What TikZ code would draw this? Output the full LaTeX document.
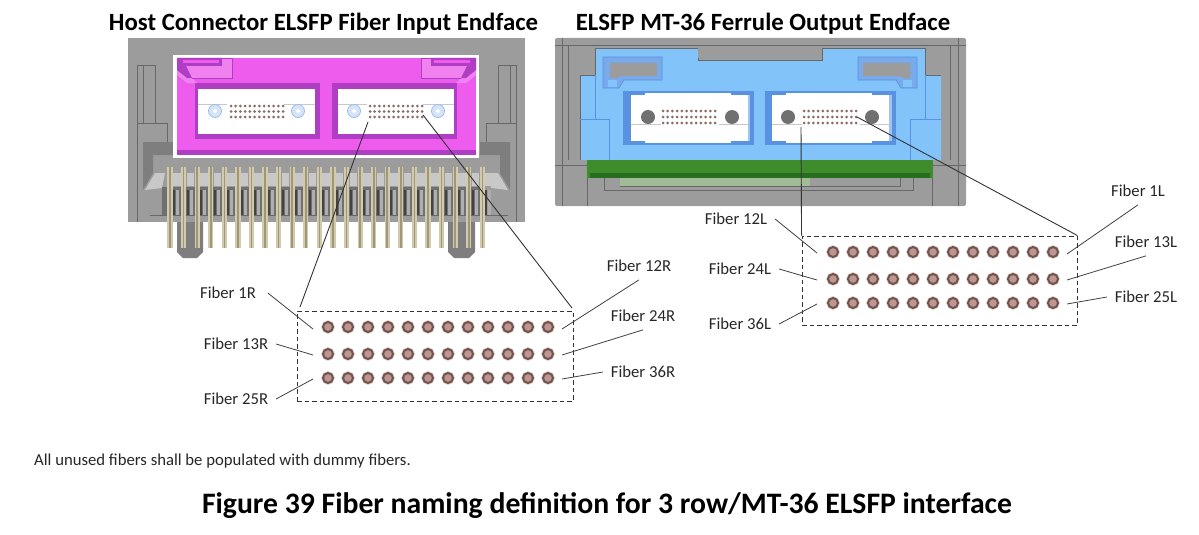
\documentclass[tikz,border=0pt]{standalone}
\usepackage{fontspec}
\setmainfont{Carlito}
\definecolor{BodyClr}{RGB}{156,156,156}
\definecolor{BodyLine}{RGB}{104,104,104}
\definecolor{BodyDark}{RGB}{112,112,112}
\definecolor{BodyPale}{RGB}{200,200,200}
\definecolor{MagClr}{RGB}{238,92,238}
\definecolor{MagDark}{RGB}{176,62,196}
\definecolor{MagPale}{RGB}{240,130,240}
\definecolor{BlueClr}{RGB}{130,196,250}
\definecolor{BlueDark}{RGB}{88,146,224}
\definecolor{BlueMid}{RGB}{120,170,236}
\definecolor{GreenClr}{RGB}{62,140,44}
\definecolor{GreenDark}{RGB}{40,110,30}
\definecolor{GreenPale}{RGB}{160,188,150}
\definecolor{PinClr}{RGB}{210,202,172}
\definecolor{PinDark}{RGB}{160,150,120}
\definecolor{FiberClr}{RGB}{112,84,80}
\definecolor{FiberFill}{RGB}{190,150,144}
\definecolor{TinyClr}{RGB}{140,108,102}
\tikzset{
  lbl/.style={font=\fontsize{16.7}{18}\selectfont,inner sep=2pt,outer sep=6pt,text=black!85},
  lead/.style={line width=.8pt,black!75},
  zoomline/.style={line width=.9pt,black!80},
  zoombox/.style={draw,dashed,line width=.9pt,black!80,dash pattern=on 4.5pt off 3pt},
  fiberdot/.style={circle,draw=FiberClr,fill=FiberFill,line width=2pt,minimum size=10pt,inner sep=0pt,
    preaction={draw=FiberFill!45,line width=3.6pt}},
  tinydot/.style={circle,fill=TinyClr,minimum size=3pt,inner sep=0pt},
  outline/.style={BodyLine,line width=.6pt},
}
\newcommand{\MagCorner}{%
  \fill[MagPale] (177,58)--(232,58)--(232,78)--(192,78)--(197,83)--(187,83)--(177,75)--cycle;
  \fill[MagDark] (177,58)--(222,58)--(222,66)--(186,66)--(192,78)--(187,78)--(177,70)--cycle;
  \fill[MagClr] (183,60)--(219,60)--(219,63)--(183,63)--cycle;
  \draw[MagDark,line width=.5pt] (222,58)--(232,58)--(232,78)--(192,78);
}
\newcommand{\BodyBevel}{%
  \draw[outline] (137,65)--(155,65)--(155,123)--(137,123)--cycle;
  \draw[outline] (143,65)--(143,123);
  \draw[outline] (137,123)--(167,123)--(167,142);
  \fill[BodyDark!90] (143,142)--(173,142)--(173,155)--(153,155)--(153,173)--(143,190)--cycle;
  \fill[BodyPale] (145,190)--(155,173)--(165,173)--(162,188)--cycle;
  \draw[outline] (137,123)--(137,222);
}
\newcommand{\SlitBlue}[1]{%
  \begin{scope}[shift={(#1,0)}]
  \fill[BlueMid] (0,57)--(59,57)--(59,80)--(21,80)--(16,88)--(0,88)--cycle;
  \draw[BlueDark,line width=.7pt] (0,57)--(59,57)--(59,80)--(21,80)--(16,88)--(0,88)--cycle;
  \fill[BodyClr] (7,63)--(54,63)--(54,76)--(18,76)--(14,78)--(7,78)--cycle;
  \fill[BlueClr] (5,80)--(14,80)--(14,87)--(5,87)--cycle;
  \end{scope}
}
\begin{document}
\begin{tikzpicture}[x=1pt,y=-1pt]
\useasboundingbox (0,0) rectangle (1199,535);

\node[font=\fontsize{24.8}{26}\selectfont\bfseries,inner sep=0pt] (titleR) at (323.5,24) {Host Connector ELSFP Fiber Input Endface};
\node[font=\fontsize{24.8}{26}\selectfont\bfseries,inner sep=0pt] (titleL) at (763,24) {ELSFP MT-36 Ferrule Output Endface};

\fill[BodyClr] (128,38) rectangle (525,222);
\BodyBevel
\begin{scope}[shift={(653,0)},xscale=-1]
\BodyBevel
\end{scope}
\fill[BodyDark] (162,187) rectangle (483,215);
\draw[outline] (150,215)--(508,215);
\fill[BodyDark!90] (177,222) -- (203,222) -- (203,252) -- (197,258) -- (183,258) -- (177,252) -- cycle;
\fill[BodyDark!90] (448,222) -- (475,222) -- (475,252) -- (469,258) -- (454,258) -- (448,252) -- cycle;
\foreach \i in {0,...,23}{
  \pgfmathsetmacro{\px}{170+13.58*\i}
  \fill[BodyPale] (\px+3,173) rectangle (\px+10.5,186);
  \fill[BodyDark!60!black] (\px+3,190) rectangle (\px+5,215);
  \fill[BodyPale!70!BodyDark] (\px+6,190) rectangle (\px+9,215);
  \fill[PinClr] (\px-2.6,167) rectangle (\px+2.6,248);
  \fill[PinDark] (\px-.8,167) rectangle (\px+.8,248);
}
\fill[white] (173,55) rectangle (479,158);
\fill[MagClr] (177,58) rectangle (476,155);
\fill[MagDark] (177,150) rectangle (476,155);
\MagCorner
\begin{scope}[shift={(653,0)},xscale=-1]
\MagCorner
\end{scope}
\foreach \wx/\wa/\wb in {195/198/315,332/338/454}{
  \fill[MagDark] (\wx,83) rectangle (\wx+125,139);
  \fill[white] (\wa,89) rectangle (\wb,134);
  \draw[BodyPale,line width=.5pt] (\wa,104) -- (\wa+29,104) (\wb-31,104) -- (\wb,104);
}
\foreach \cx in {215,298,354,438}{
  \node[circle,draw=BlueDark!60,fill=BlueDark!25,line width=.8pt,minimum size=13pt,inner sep=0pt] (pinR\cx) at (\cx,111) {};
  \node[circle,fill=white,minimum size=4pt,inner sep=0pt] (holeR\cx) at (\cx,111) {};
}
\foreach \sx in {231,370}
  \foreach \ry in {106,111.5,117}
    \foreach \c in {0,...,11}
      \node[tinydot] (tinyR\sx\ry\c) at (\sx+4.73*\c,\ry) {};

\fill[BodyClr,rounded corners=2pt] (555,38) rectangle (966,206);
\draw[outline] (555,45)--(966,45) (562,38)--(562,206) (568,45)--(568,160) (958,38)--(958,206) (950,45)--(950,160);
\fill[BlueClr] (595,48)--(698,48)--(698,60)--(822,60)--(822,48)--(925,48)--(925,75)--(941,75)--(941,160)--(580,160)--(580,75)--(595,75)--cycle;
\draw[outline] (595,48)--(698,48)--(698,60)--(822,60)--(822,48)--(925,48)--(925,75)--(941,75);
\draw[outline] (595,48)--(595,75)--(580,75)--(580,160);
\draw[BlueDark,line width=.5pt] (580,119)--(609,119)--(609,160) (941,119)--(910,119)--(910,160) (595,75)--(595,119) (925,75)--(925,119);
\fill[BodyClr] (698,48) rectangle (822,58);
\SlitBlue{603}
\begin{scope}[shift={(1520,0)},xscale=-1]
\SlitBlue{603}
\end{scope}
\foreach \wx/\wa in {623/631,765/772}{
  \fill[BlueDark] (\wx,91) rectangle (\wx+131,145);
  \fill[BlueMid!70!white] (\wa+113,95) rectangle (\wx+127,141);
  \fill[white] (\wa,95) rectangle (\wa+117,141);
  \fill[white] (\wa+14,93) rectangle (\wa+100,143);
  \draw[BodyPale,line width=.5pt] (\wa,124) -- (\wa+30,124) (\wa+88,124) -- (\wa+117,124);
}
\foreach \cx in {648,732,788,872}
  \node[circle,fill=BodyDark,minimum size=14pt,inner sep=0pt] (pinL\cx) at (\cx,117) {};
\foreach \sx in {663,804}
  \foreach \ry in {111,117,123}
    \foreach \c in {0,...,11}
      \node[tinydot] (tinyL\sx\ry\c) at (\sx+4.73*\c,\ry) {};
\fill[GreenClr] (587,160) rectangle (933,178);
\fill[GreenDark] (590,173) rectangle (930,178);
\fill[GreenPale] (620,178) rectangle (810,186);
\draw[outline] (604,178)--(604,190)--(913,190)--(913,178) (620,186)--(900,186)--(900,178) (587,178)--(587,206) (932,178)--(932,206) (555,165)--(587,165) (933,165)--(966,165);

\node[zoombox,minimum width=276pt,minimum height=90pt,inner sep=0pt] (boxR) at (435,356) {};
\node[zoombox,minimum width=275pt,minimum height=89pt,inner sep=0pt] (boxL) at (939.5,280.5) {};

\foreach \ry/\r in {327/1,354/2,378/3}
  \foreach \c in {0,...,11}
    \node[fiberdot] (fibR\r-\c) at (328+20*\c,\ry) {};
\foreach \ry/\r in {252/1,279/2,303/3}
  \foreach \c in {0,...,11}
    \node[fiberdot] (fibL\r-\c) at (833+20*\c,\ry) {};

\coordinate (upRa) at (368,122);
\coordinate (upRb) at (423,115);
\coordinate (boxRa) at (300,307);
\coordinate (boxRb) at (572,308);
\coordinate (upLa) at (801,127);
\coordinate (upLb) at (857,117);
\draw[zoomline] (upRa) -- (boxRa);
\draw[zoomline] (upRb) -- (boxRb);
\draw[zoomline] (upLa) -- (boxL.north west);
\draw[zoomline] (upLb) -- (boxL.north east);

\node[lbl] (f1R) at (228,293) {Fiber 1R};
\node[lbl] (f13R) at (236,344) {Fiber 13R};
\node[lbl] (f25R) at (236,399) {Fiber 25R};
\node[lbl] (f12R) at (639,266) {Fiber 12R};
\node[lbl] (f24R) at (643,316) {Fiber 24R};
\node[lbl] (f36R) at (643,372) {Fiber 36R};
\node[lbl] (f12L) at (736,219) {Fiber 12L};
\node[lbl] (f24L) at (740,269) {Fiber 24L};
\node[lbl] (f36L) at (740,324) {Fiber 36L};
\node[lbl] (f1L) at (1138,191) {Fiber 1L};
\node[lbl] (f13L) at (1146,242) {Fiber 13L};
\node[lbl] (f25L) at (1146,297) {Fiber 25L};

\coordinate (e1R) at (313,329);
\coordinate (e13R) at (313,355);
\coordinate (e25R) at (313,379);
\coordinate (e12R) at (562,329);
\coordinate (e24R) at (562,355);
\coordinate (e36R) at (562,379);
\coordinate (e12L) at (817,253);
\coordinate (e24L) at (817,280);
\coordinate (e36L) at (817,304);
\coordinate (e1L) at (1067,254);
\coordinate (e13L) at (1067,280);
\coordinate (e25L) at (1067,304);
\draw[lead] (f1R.east) ++(4,0) -- (e1R);
\draw[lead] (f13R.east) -- (e13R);
\draw[lead] (f25R.east) -- (e25R);
\draw[lead] (f12R.south) -- (e12R);
\draw[lead] (f24R.south) -- (e24R);
\draw[lead] (f36R.west) -- (e36R);
\draw[lead] (f12L.east) -- (e12L);
\draw[lead] (f24L.east) -- (e24L);
\draw[lead] (f36L.east) -- (e36L);
\draw[lead] (f1L.south) -- (e1L);
\draw[lead] (f13L.south) -- (e13L);
\draw[lead] (f25L.west) -- (e25L);

\node[font=\fontsize{16.7}{18}\selectfont,anchor=west,inner sep=0pt,text=black!85] (note) at (34,461) {All unused fibers shall be populated with dummy fibers.};
\node[font=\fontsize{29.7}{32}\selectfont\bfseries,inner sep=0pt] (caption) at (607,506) {Figure 39 Fiber naming definition for 3 row/MT-36 ELSFP interface};
\end{tikzpicture}
\end{document}
